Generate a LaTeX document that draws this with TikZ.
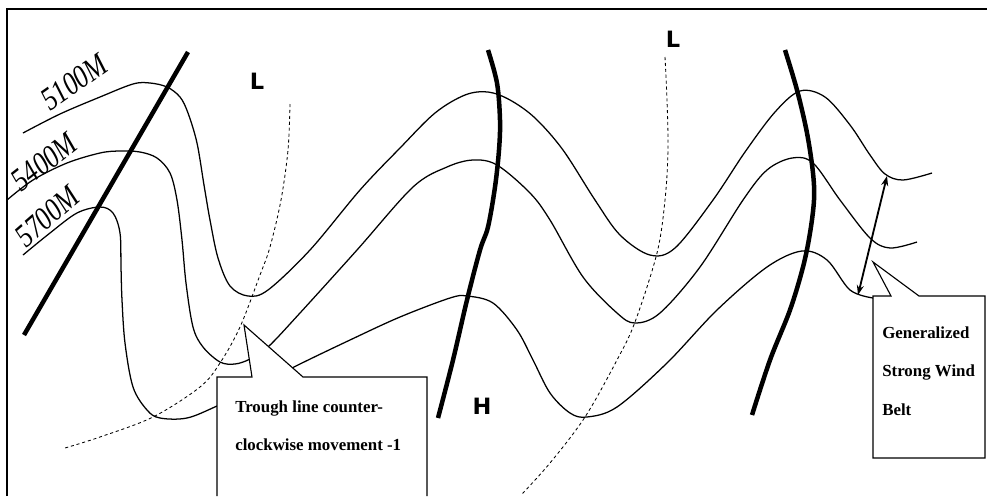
\documentclass[tikz,border=0pt]{standalone}
\usepackage{fontspec}
\setmainfont{Liberation Serif}
\newfontfamily\lhfont{DejaVu Sans}
\usetikzlibrary{arrows.meta}
\begin{document}
\begin{tikzpicture}[x=0.025cm,y=-0.025cm,
  contour/.style={line width=0.9pt,smooth,tension=0.55},
  ridge/.style={line width=3.2pt,smooth,tension=0.55},
  troughln/.style={line width=0.6pt,dash pattern=on 2.2pt off 2pt,smooth,tension=0.55},
  hgt/.style={font=\fontsize{23}{23}\selectfont\itshape,inner sep=0pt},
  ctr/.style={font=\fontsize{16}{16}\selectfont\lhfont\bfseries,inner sep=0pt},
  callout/.style={draw,fill=white,line width=0.8pt},
  note/.style={font=\fontsize{12}{27.4}\selectfont\bfseries,align=left,inner sep=0pt,anchor=north west},
  belt/.style={{Stealth[length=7pt,width=5pt]}-{Stealth[length=7pt,width=5pt]},line width=1.3pt}]
\useasboundingbox (0,0) rectangle (987,496);
\draw[line width=1.1pt] (7,496) -- (7,9) -- (987,9);
\draw[contour] plot coordinates {(23,133) (60,114) (100,97) (133,84) (150,83) (167,87) (180,97) (188,113) (197,143) (204,185) (210,220) (218,258) (230,286) (248,296) (268,290) (310,250) (360,190) (400,148) (435,113) (465,95) (488,92) (510,100) (535,118) (563,150) (595,200) (620,235) (650,255) (675,248) (713,200) (745,152) (775,112) (800,91) (825,97) (850,125) (870,155) (885,174) (903,180) (932,173)};
\draw[contour] plot coordinates {(7,200) (33,180) (67,163) (100,153) (120,151) (140,152) (157,158) (170,173) (177,200) (182,240) (186,283) (193,327) (203,347) (220,362) (235,364) (250,359) (268,347) (300,313) (357,250) (413,187) (447,167) (473,160) (497,165) (530,193) (550,220) (583,277) (617,313) (635,323) (660,313) (700,267) (743,200) (767,170) (792,158) (813,163) (840,200) (870,238) (890,248) (917,242)};
\draw[contour] plot coordinates {(23,255) (50,233) (77,213) (100,207) (113,213) (120,233) (121,267) (122,300) (125,343) (133,387) (147,410) (160,418) (187,418) (217,406) (255,388) (294,367) (350,340) (400,317) (450,298) (467,296) (493,303) (517,330) (533,360) (550,393) (570,413) (587,417) (617,407) (667,363) (717,310) (767,267) (802,251) (827,260) (850,290) (873,298)};
\draw[troughln] plot coordinates {(290,104) (288,150) (281,200) (270,247) (260,275) (240,327) (220,363) (200,387) (153,417) (100,437) (65,448)};
\draw[troughln] plot coordinates {(665,57) (667,100) (668,150) (665,200) (657,253) (635,322) (617,360) (585,417) (550,463) (522,494)};
\draw[line width=3.2pt] (188,52) -- (24,335);
\draw[ridge] plot coordinates {(488,50) (497,83) (500,120) (499,150) (495,187) (488,227) (480,250) (467,300) (453,360) (438,418)};
\draw[ridge] plot coordinates {(785,50) (797,90) (807,133) (813,173) (814,200) (810,233) (803,267) (790,310) (770,360) (752,415)};
\node[hgt,rotate=35,xscale=0.8] (h5100) at (74,82) {5100M};
\node[hgt,rotate=38,xscale=0.8] (h5400) at (44,162) {5400M};
\node[hgt,rotate=41,xscale=0.8] (h5700) at (47,216) {5700M};
\node[ctr] (lowa) at (257,81) {L};
\node[ctr] (lowb) at (673,39) {L};
\node[ctr] (high) at (482,406) {H};
\filldraw[callout] (217,496) -- (217,377) -- (252,377) -- (244,325) -- (303,377) -- (427,377) -- (427,496);
\filldraw[callout] (873,458) -- (873,296) -- (891,296) -- (873,262) -- (919,296) -- (985,296) -- (985,458) -- cycle;
\node[note] (trough) at (235,400) {Trough line counter-\\clockwise movement -1};
\node[note] (windbelt) at (882,326) {Generalized\\Strong Wind\\Belt};
\coordinate (belttop) at (887,176);
\coordinate (beltbot) at (858,295);
\draw[belt] (beltbot) -- (belttop);
\end{tikzpicture}
\end{document}
